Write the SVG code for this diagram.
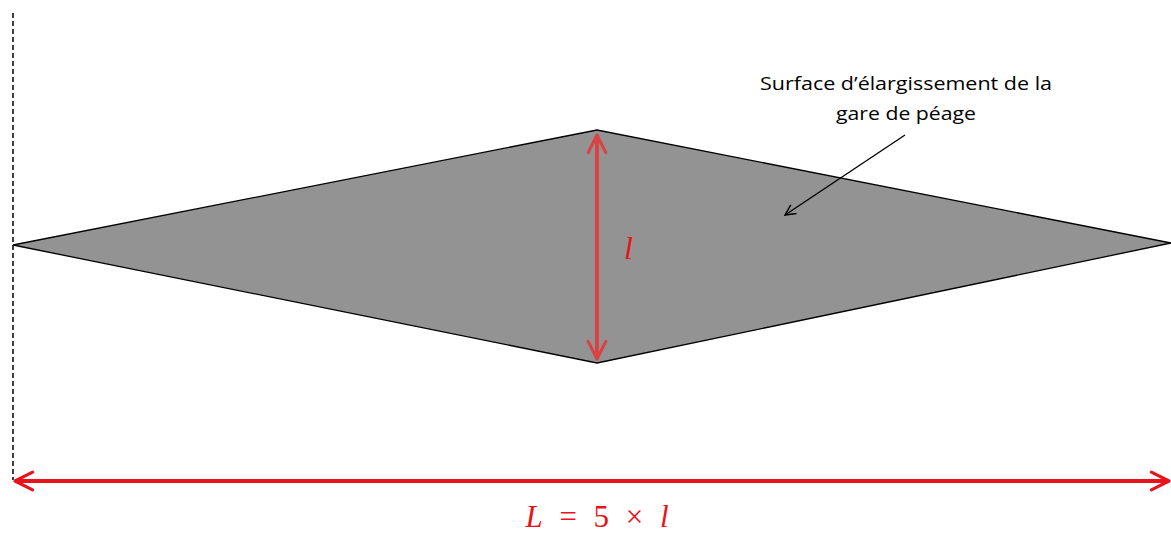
<svg xmlns="http://www.w3.org/2000/svg" width="1171" height="535" viewBox="0 0 1171 535">
<style>
.lbl{font-family:"Open Sans","Liberation Sans",Arial,sans-serif;font-size:19px;fill:#000}
.math{font-family:"Liberation Serif","DejaVu Serif",serif;fill:#e8141c}
</style>
<defs>
<marker id="chevR" viewBox="0 0 10 10" refX="9" refY="5" markerWidth="5.5" markerHeight="5.5" orient="auto-start-reverse" markerUnits="strokeWidth">
<path d="M1,1 L9,5 L1,9" fill="none" stroke="context-stroke" stroke-width="1.4" stroke-linecap="round" stroke-linejoin="round"/>
</marker>
<marker id="chevK" viewBox="0 0 10 10" refX="9" refY="5" markerWidth="13" markerHeight="13" orient="auto" markerUnits="userSpaceOnUse">
<path d="M1,1 L9,5 L1,9" fill="none" stroke="#000" stroke-width="1.1"/>
</marker>
</defs>
<rect width="1171" height="535" fill="#fff"/>
<g id="dashed-ref">
<line x1="13" y1="13" x2="13" y2="480" stroke="#000" stroke-width="1.5" stroke-dasharray="5,3"/>
</g>
<g id="diamond">
<polygon points="13,245 597,130 1171,243 597,363" fill="#939393" stroke="#000" stroke-width="1.3"/>
</g>
<g id="connectors">
<line x1="597" y1="135" x2="597" y2="359" stroke="#d94343" stroke-width="4" marker-start="url(#chevR)" marker-end="url(#chevR)"/>
<line x1="15" y1="481" x2="1169" y2="481" stroke="#e8141c" stroke-width="4" marker-start="url(#chevR)" marker-end="url(#chevR)"/>
<line x1="905" y1="135" x2="785" y2="215" stroke="#000" stroke-width="1.3" marker-end="url(#chevK)"/>
</g>
<g id="label-surface">
<text class="lbl" x="906" y="90" text-anchor="middle" textLength="292" lengthAdjust="spacingAndGlyphs">Surface d’élargissement de la</text>
<text class="lbl" x="906" y="120" text-anchor="middle" textLength="140" lengthAdjust="spacingAndGlyphs">gare de péage</text>
</g>
<g id="label-l">
<text class="math" x="624" y="259" font-size="32" font-style="italic">l</text>
</g>
<g id="label-L">
<text class="math" x="597" y="527" font-size="31" text-anchor="middle" textLength="143" lengthAdjust="spacing"><tspan font-style="italic">L</tspan> = 5 × <tspan font-style="italic">l</tspan></text>
</g>
</svg>
